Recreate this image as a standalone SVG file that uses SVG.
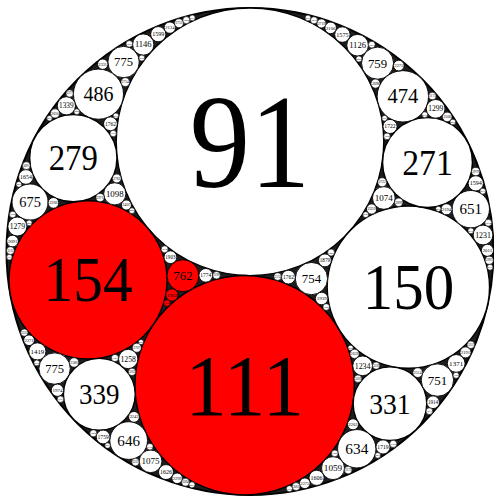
<svg xmlns="http://www.w3.org/2000/svg" width="494" height="497" viewBox="0 0 494 497">
<style>
.c{fill:#fff;stroke:#000;stroke-width:0.9}
.r{fill:#f00;stroke:#000;stroke-width:0.9}
.b{stroke-width:1.4}
.s{stroke-width:0.6}
text{font-family:"Liberation Serif","Times New Roman",serif;text-anchor:middle;fill:#000}
</style>
<rect width="494" height="497" fill="#fff"/>
<g id="outer"><circle cx="250" cy="251.5" r="243.5" fill="#1e1e1e" stroke="#000" stroke-width="2"/></g>
<g id="c91"><circle class="c b" cx="250" cy="141.79" r="133.79"/><text transform="translate(250 187.3) scale(0.9 1)" font-size="134">91</text></g>
<g id="c111"><circle class="r b" cx="244.65" cy="385.21" r="109.68"/><text transform="translate(244.65 415.0) scale(0.95 1)" font-size="87.7">111</text></g>
<g id="c154"><circle class="r b" cx="88.03" cy="279.88" r="79.06"/><text transform="translate(88.03 301.4) scale(0.94 1)" font-size="63.2">154</text></g>
<g id="c150"><circle class="c b" cx="408.37" cy="287.13" r="81.17"/><text transform="translate(408.37 309.2) scale(0.94 1)" font-size="64.9">150</text></g>
<g id="c279"><circle class="c b" cx="73.32" cy="158.07" r="43.64"/><text transform="translate(73.32 169.9) scale(0.94 1)" font-size="34.9">279</text></g>
<g id="c271"><circle class="c b" cx="427.51" cy="162.5" r="44.93"/><text transform="translate(427.51 174.7) scale(0.94 1)" font-size="35.9">271</text></g>
<g id="c339"><circle class="c b" cx="99.33" cy="394.30" r="35.91"/><text transform="translate(99.33 404.1) scale(0.94 1)" font-size="28.7">339</text></g>
<g id="c331"><circle class="c b" cx="389.95" cy="403.64" r="36.78"/><text transform="translate(389.95 413.6) scale(0.94 1)" font-size="29.4">331</text></g>
<g id="c762"><circle class="r" cx="182.97" cy="275.72" r="15.98"/><text x="182.97" y="280.1" font-size="12.8">762</text></g>
<g id="c754"><circle class="c" cx="311.44" cy="278.56" r="16.15"/><text x="311.44" y="283.0" font-size="12.9">754</text></g>
<g id="c1098"><circle class="c" cx="114.78" cy="193.80" r="11.09"/><text x="114.78" y="196.8" font-size="8.87">1098</text></g>
<g id="c675"><circle class="c" cx="30.04" cy="202.01" r="18.04"/><text x="30.04" y="206.9" font-size="14.4">675</text></g>
<g id="c486"><circle class="c" cx="98.47" cy="94.15" r="25.05"/><text x="98.47" y="101.0" font-size="20">486</text></g>
<g id="c1074"><circle class="c" cx="383.82" cy="197.95" r="11.34"/><text x="383.82" y="201.0" font-size="9.07">1074</text></g>
<g id="c651"><circle class="c" cx="470.78" cy="209.16" r="18.70"/><text x="470.78" y="214.3" font-size="15">651</text></g>
<g id="c474"><circle class="c" cx="402.86" cy="96.33" r="25.69"/><text x="402.86" y="103.3" font-size="20.6">474</text></g>
<g id="c1258"><circle class="c" cx="128.20" cy="359.01" r="9.68"/><text x="128.20" y="361.6" font-size="7.74">1258</text></g>
<g id="c775b"><circle class="c" cx="54.59" cy="368.56" r="15.71"/><text x="54.59" y="372.8" font-size="12.6">775</text></g>
<g id="c646"><circle class="c" cx="128.65" cy="440.56" r="18.85"/><text x="128.65" y="445.7" font-size="15.1">646</text></g>
<g id="c1234"><circle class="c" cx="362.62" cy="365.83" r="9.87"/><text x="362.62" y="368.5" font-size="7.9">1234</text></g>
<g id="c751"><circle class="c" cx="437.42" cy="380.08" r="16.21"/><text x="437.42" y="384.5" font-size="13">751</text></g>
<g id="c634"><circle class="c" cx="356.79" cy="448.74" r="19.20"/><text x="356.79" y="454.0" font-size="15.4">634</text></g>
<g id="c1963"><circle class="r" cx="171.94" cy="294.97" r="6.20"/><text x="171.94" y="296.7" font-size="4.96">1963</text></g>
<g id="c3694r"><circle class="r s" cx="167.04" cy="303.10" r="3.30"/><text x="167.04" y="304.0" font-size="2.6">3694</text></g>
<g id="c1903"><circle class="c" cx="170.42" cy="257.20" r="6.40"/><text x="170.42" y="258.9" font-size="5.12">1903</text></g>
<g id="c1774"><circle class="c" cx="205.81" cy="275.32" r="6.86"/><text x="205.81" y="277.2" font-size="5.49">1774</text></g>
<g id="c1939"><circle class="c" cx="321.67" cy="298.52" r="6.28"/><text x="321.67" y="300.2" font-size="5.02">1939</text></g>
<g id="c1879"><circle class="c" cx="324.91" cy="260.38" r="6.48"/><text x="324.91" y="262.2" font-size="5.18">1879</text></g>
<g id="c1762b"><circle class="c" cx="288.42" cy="277.14" r="6.91"/><text x="288.42" y="279.0" font-size="5.53">1762</text></g>
<g id="c2407"><circle class="c" cx="126.38" cy="205.02" r="5.06"/><text x="126.38" y="206.4" font-size="4.05">2407</text></g>
<g id="c2971"><circle class="c s" cx="100.07" cy="197.60" r="4.10"/><text x="100.07" y="198.7" font-size="3.28">2971</text></g>
<g id="c2782"><circle class="c s" cx="116.79" cy="178.46" r="4.38"/><text x="116.79" y="179.7" font-size="3.5">2782</text></g>
<g id="c2266"><circle class="c" cx="53.43" cy="202.87" r="5.37"/><text x="53.43" y="204.3" font-size="4.3">2266</text></g>
<g id="c1279"><circle class="c" cx="17.36" cy="226.48" r="9.52"/><text x="17.36" y="229.1" font-size="7.6">1279</text></g>
<g id="c2091"><circle class="c" cx="12.55" cy="241.04" r="5.82"/><text x="12.55" y="242.6" font-size="4.66">2091</text></g>
<g id="c1654"><circle class="c" cx="25.94" cy="176.94" r="7.36"/><text x="25.94" y="178.9" font-size="5.9">1654</text></g>
<g id="c1762a"><circle class="c" cx="110.46" cy="123.78" r="6.91"/><text x="110.46" y="125.7" font-size="5.53">1762</text></g>
<g id="c1339"><circle class="c" cx="66.37" cy="105.80" r="9.09"/><text x="66.37" y="108.3" font-size="7.27">1339</text></g>
<g id="c2650"><circle class="c s" cx="55.02" cy="113.44" r="4.59"/><text x="55.02" y="114.7" font-size="3.67">2650</text></g>
<g id="c775a"><circle class="c" cx="123.56" cy="62.03" r="15.71"/><text x="123.56" y="66.3" font-size="12.6">775</text></g>
<g id="c2754"><circle class="c s" cx="125.35" cy="82.08" r="4.42"/><text x="125.35" y="83.3" font-size="3.54">2754</text></g>
<g id="c2331"><circle class="c" cx="102.74" cy="64.18" r="5.22"/><text x="102.74" y="65.6" font-size="4.18">2331</text></g>
<g id="c1146"><circle class="c" cx="143.24" cy="44.54" r="10.62"/><text x="143.24" y="47.4" font-size="8.5">1146</text></g>
<g id="c1599"><circle class="c" cx="158.26" cy="34.18" r="7.61"/><text x="158.26" y="36.3" font-size="6.09">1599</text></g>
<g id="c2134"><circle class="c" cx="169.85" cy="27.62" r="5.71"/><text x="169.85" y="29.2" font-size="4.57">2134</text></g>
<g id="c2751"><circle class="c s" cx="178.97" cy="23.22" r="4.43"/><text x="178.97" y="24.4" font-size="3.54">2751</text></g>
<g id="c2359"><circle class="c" cx="371.60" cy="209.03" r="5.16"/><text x="371.60" y="210.4" font-size="4.13">2359</text></g>
<g id="c2899"><circle class="c s" cx="398.73" cy="202.31" r="4.20"/><text x="398.73" y="203.5" font-size="3.36">2899</text></g>
<g id="c2722"><circle class="c s" cx="382.22" cy="182.22" r="4.47"/><text x="382.22" y="183.4" font-size="3.58">2722</text></g>
<g id="c2194"><circle class="c" cx="446.52" cy="209.26" r="5.55"/><text x="446.52" y="210.8" font-size="4.44">2194</text></g>
<g id="c1231"><circle class="c" cx="483.03" cy="235.00" r="9.89"/><text x="483.03" y="237.7" font-size="7.9">1231</text></g>
<g id="c2011"><circle class="c" cx="487.44" cy="250.32" r="6.05"/><text x="487.44" y="252.0" font-size="4.84">2011</text></g>
<g id="c2991"><circle class="c s" cx="489.27" cy="260.27" r="4.07"/><text x="489.27" y="261.4" font-size="3.26">2991</text></g>
<g id="c1594"><circle class="c" cx="475.79" cy="183.30" r="7.64"/><text x="475.79" y="185.4" font-size="6.11">1594</text></g>
<g id="c2979"><circle class="c s" cx="475.68" cy="171.58" r="4.09"/><text x="475.68" y="172.7" font-size="3.27">2979</text></g>
<g id="c1722"><circle class="c" cx="390.03" cy="126.47" r="7.07"/><text x="390.03" y="128.4" font-size="5.66">1722</text></g>
<g id="c1299"><circle class="c" cx="435.63" cy="108.81" r="9.37"/><text x="435.63" y="111.4" font-size="7.5">1299</text></g>
<g id="c2566"><circle class="c s" cx="447.20" cy="116.90" r="4.74"/><text x="447.20" y="118.2" font-size="3.8">2566</text></g>
<g id="c759"><circle class="c" cx="377.54" cy="63.16" r="16.04"/><text x="377.54" y="67.5" font-size="12.8">759</text></g>
<g id="c2698"><circle class="c s" cx="375.47" cy="83.62" r="4.51"/><text x="375.47" y="84.8" font-size="3.6">2698</text></g>
<g id="c2275a"><circle class="c" cx="398.80" cy="65.56" r="5.35"/><text x="398.80" y="67.0" font-size="4.28">2275</text></g>
<g id="c1126"><circle class="c" cx="357.60" cy="45.19" r="10.81"/><text x="357.60" y="48.1" font-size="8.65">1126</text></g>
<g id="c1575"><circle class="c" cx="342.39" cy="34.58" r="7.73"/><text x="342.39" y="36.7" font-size="6.18">1575</text></g>
<g id="c2106"><circle class="c" cx="330.65" cy="27.88" r="5.78"/><text x="330.65" y="29.5" font-size="4.62">2106</text></g>
<g id="c2719"><circle class="c s" cx="321.42" cy="23.40" r="4.48"/><text x="321.42" y="24.6" font-size="3.58">2719</text></g>
<g id="c2707"><circle class="c s" cx="136.79" cy="347.73" r="4.50"/><text x="136.79" y="349.0" font-size="3.6">2707</text></g>
<g id="c2586"><circle class="c s" cx="74.08" cy="362.48" r="4.71"/><text x="74.08" y="363.8" font-size="3.77">2586</text></g>
<g id="c1419"><circle class="c" cx="37.38" cy="351.41" r="8.58"/><text x="37.38" y="353.7" font-size="6.86">1419</text></g>
<g id="c2271"><circle class="c" cx="29.02" cy="340.25" r="5.36"/><text x="29.02" y="341.7" font-size="4.29">2271</text></g>
<g id="c1974"><circle class="c" cx="57.45" cy="390.25" r="6.17"/><text x="57.45" y="391.9" font-size="4.94">1974</text></g>
<g id="c2242"><circle class="c" cx="133.98" cy="416.87" r="5.43"/><text x="133.98" y="418.3" font-size="4.34">2242</text></g>
<g id="c1759"><circle class="c" cx="103.13" cy="436.97" r="6.92"/><text x="103.13" y="438.9" font-size="5.54">1759</text></g>
<g id="c1075"><circle class="c" cx="150.56" cy="461.30" r="11.33"/><text x="150.56" y="464.4" font-size="9.06">1075</text></g>
<g id="c1626"><circle class="c" cx="165.99" cy="472.06" r="7.49"/><text x="165.99" y="474.1" font-size="5.99">1626</text></g>
<g id="c2299"><circle class="c" cx="177.15" cy="478.29" r="5.30"/><text x="177.15" y="479.7" font-size="4.24">2299</text></g>
<g id="c2659"><circle class="c s" cx="354.53" cy="353.87" r="4.58"/><text x="354.53" y="355.1" font-size="3.66">2659</text></g>
<g id="c2514"><circle class="c s" cx="417.73" cy="372.63" r="4.84"/><text x="417.73" y="373.9" font-size="3.87">2514</text></g>
<g id="c1371"><circle class="c" cx="456.20" cy="363.43" r="8.88"/><text x="456.20" y="365.8" font-size="7.1">1371</text></g>
<g id="c2191"><circle class="c" cx="465.50" cy="352.39" r="5.56"/><text x="465.50" y="353.9" font-size="4.45">2191</text></g>
<g id="c1914"><circle class="c" cx="433.07" cy="402.23" r="6.36"/><text x="433.07" y="403.9" font-size="5.09">1914</text></g>
<g id="c2202"><circle class="c" cx="353.03" cy="424.30" r="5.53"/><text x="353.03" y="425.8" font-size="4.42">2202</text></g>
<g id="c1719"><circle class="c" cx="383.02" cy="446.95" r="7.08"/><text x="383.02" y="448.9" font-size="5.66">1719</text></g>
<g id="c1059"><circle class="c" cx="333.00" cy="468.15" r="11.50"/><text x="333.00" y="471.3" font-size="9.2">1059</text></g>
<g id="c1606"><circle class="c" cx="316.56" cy="477.84" r="7.58"/><text x="316.56" y="479.9" font-size="6.06">1606</text></g>
<g id="c2275b"><circle class="c" cx="304.82" cy="483.25" r="5.35"/><text x="304.82" y="484.7" font-size="4.28">2275</text></g>
<g id="c4206"><circle class="c s" cx="131.95" cy="210.70" r="2.89"/><text x="131.95" y="211.49" font-size="2.31">4206</text></g>
<g id="c4266"><circle class="c s" cx="29.20" cy="222.88" r="2.85"/><text x="29.20" y="223.66" font-size="2.28">4266</text></g>
<g id="c3654"><circle class="c s" cx="12.70" cy="214.50" r="3.33"/><text x="12.70" y="215.40" font-size="2.66">3654</text></g>
<g id="c3111"><circle class="c s" cx="10.41" cy="250.54" r="3.91"/><text x="10.41" y="251.60" font-size="3.13">3111</text></g>
<g id="c4339"><circle class="c s" cx="9.37" cy="257.18" r="2.81"/><text x="9.37" y="257.95" font-size="2.25">4339</text></g>
<g id="c3091"><circle class="c s" cx="26.35" cy="165.65" r="3.94"/><text x="26.35" y="166.72" font-size="3.15">3091</text></g>
<g id="c4279"><circle class="c s" cx="18.91" cy="184.34" r="2.85"/><text x="18.91" y="185.12" font-size="2.28">4279</text></g>
<g id="c3778"><circle class="c s" cx="113.23" cy="133.53" r="3.22"/><text x="113.23" y="134.41" font-size="2.58">3778</text></g>
<g id="c4399"><circle class="c s" cx="115.94" cy="115.80" r="2.77"/><text x="115.94" y="116.55" font-size="2.22">4399</text></g>
<g id="c4258"><circle class="c s" cx="76.77" cy="111.70" r="2.86"/><text x="76.77" y="112.48" font-size="2.29">4258</text></g>
<g id="c4419"><circle class="c s" cx="49.48" cy="118.27" r="2.76"/><text x="49.48" y="119.02" font-size="2.21">4419</text></g>
<g id="c3271"><circle class="c s" cx="69.70" cy="93.43" r="3.72"/><text x="69.70" y="94.44" font-size="2.98">3271</text></g>
<g id="c4074"><circle class="c s" cx="141.83" cy="58.07" r="2.99"/><text x="141.83" y="58.88" font-size="2.39">4074</text></g>
<g id="c3651"><circle class="c s" cx="129.30" cy="43.87" r="3.33"/><text x="129.30" y="44.77" font-size="2.66">3651</text></g>
<g id="c4126"><circle class="c s" cx="365.73" cy="214.63" r="2.95"/><text x="365.73" y="215.43" font-size="2.36">4126</text></g>
<g id="c4579"><circle class="c s" cx="438.33" cy="208.84" r="2.66"/><text x="438.33" y="209.56" font-size="2.13">4579</text></g>
<g id="c4114"><circle class="c s" cx="470.87" cy="230.82" r="2.96"/><text x="470.87" y="231.62" font-size="2.37">4114</text></g>
<g id="c3514"><circle class="c s" cx="488.30" cy="222.73" r="3.46"/><text x="488.30" y="223.67" font-size="2.77">3514</text></g>
<g id="c4171"><circle class="c s" cx="490.07" cy="267.22" r="2.92"/><text x="490.07" y="268.02" font-size="2.34">4171</text></g>
<g id="c4119"><circle class="c s" cx="482.86" cy="191.19" r="2.96"/><text x="482.86" y="191.99" font-size="2.37">4119</text></g>
<g id="c3694f"><circle class="c s" cx="386.98" cy="136.38" r="3.30"/><text x="386.98" y="137.28" font-size="2.64">3694</text></g>
<g id="c4303"><circle class="c s" cx="384.57" cy="118.21" r="2.83"/><text x="384.57" y="118.98" font-size="2.26">4303</text></g>
<g id="c4138"><circle class="c s" cx="424.81" cy="114.71" r="2.94"/><text x="424.81" y="115.51" font-size="2.35">4138</text></g>
<g id="c3175a"><circle class="c s" cx="432.38" cy="96.01" r="3.83"/><text x="432.38" y="97.05" font-size="3.06">3175</text></g>
<g id="c4275a"><circle class="c s" cx="452.83" cy="121.99" r="2.85"/><text x="452.83" y="122.77" font-size="2.28">4275</text></g>
<g id="c4002"><circle class="c s" cx="358.93" cy="58.97" r="3.04"/><text x="358.93" y="59.80" font-size="2.43">4002</text></g>
<g id="c3579"><circle class="c s" cx="371.80" cy="44.59" r="3.40"/><text x="371.80" y="45.51" font-size="2.72">3579</text></g>
<g id="c3391"><circle class="c s" cx="114.97" cy="358.02" r="3.59"/><text x="114.97" y="359.00" font-size="2.87">3391</text></g>
<g id="c3262"><circle class="c s" cx="132.02" cy="371.86" r="3.73"/><text x="132.02" y="372.87" font-size="2.98">3262</text></g>
<g id="c4686"><circle class="c s" cx="141.00" cy="342.02" r="2.60"/><text x="141.00" y="342.73" font-size="2.08">4686</text></g>
<g id="c4134"><circle class="c s" cx="36.80" cy="362.92" r="2.95"/><text x="36.80" y="363.72" font-size="2.36">4134</text></g>
<g id="c3331"><circle class="c s" cx="24.27" cy="332.59" r="3.66"/><text x="24.27" y="333.59" font-size="2.93">3331</text></g>
<g id="c3751"><circle class="c s" cx="60.48" cy="399.16" r="3.25"/><text x="60.48" y="400.04" font-size="2.6">3751</text></g>
<g id="c3450g"><circle class="c s" cx="93.35" cy="433.29" r="3.53"/><text x="93.35" y="434.25" font-size="2.82">3450</text></g>
<g id="c4371"><circle class="c s" cx="107.60" cy="445.58" r="2.79"/><text x="107.60" y="446.34" font-size="2.23">4371</text></g>
<g id="c3714"><circle class="c s" cx="149.90" cy="446.71" r="3.28"/><text x="149.90" y="447.60" font-size="2.62">3714</text></g>
<g id="c3231"><circle class="c s" cx="135.48" cy="462.11" r="3.77"/><text x="135.48" y="463.14" font-size="3.02">3231</text></g>
<g id="c3094"><circle class="c s" cx="185.50" cy="482.22" r="3.94"/><text x="185.50" y="483.29" font-size="3.15">3094</text></g>
<g id="c4011"><circle class="c s" cx="191.96" cy="484.85" r="3.04"/><text x="191.96" y="485.68" font-size="2.43">4011</text></g>
<g id="c3319"><circle class="c s" cx="376.15" cy="365.61" r="3.67"/><text x="376.15" y="366.61" font-size="2.94">3319</text></g>
<g id="c3202"><circle class="c s" cx="357.95" cy="378.68" r="3.80"/><text x="357.95" y="379.71" font-size="3.04">3202</text></g>
<g id="c4606"><circle class="c s" cx="350.58" cy="347.82" r="2.64"/><text x="350.58" y="348.54" font-size="2.11">4606</text></g>
<g id="c3994"><circle class="c s" cx="456.10" cy="375.36" r="3.05"/><text x="456.10" y="376.19" font-size="2.44">3994</text></g>
<g id="c3211"><circle class="c s" cx="470.84" cy="344.72" r="3.79"/><text x="470.84" y="345.75" font-size="3.03">3211</text></g>
<g id="c3639"><circle class="c s" cx="429.36" cy="411.20" r="3.35"/><text x="429.36" y="412.11" font-size="2.68">3639</text></g>
<g id="c3366"><circle class="c s" cx="393.27" cy="443.90" r="3.62"/><text x="393.27" y="444.89" font-size="2.9">3366</text></g>
<g id="c4275h"><circle class="c s" cx="377.81" cy="455.40" r="2.85"/><text x="377.81" y="456.18" font-size="2.28">4275</text></g>
<g id="c3658"><circle class="c s" cx="334.75" cy="453.43" r="3.33"/><text x="334.75" y="454.33" font-size="2.66">3658</text></g>
<g id="c3175h"><circle class="c s" cx="348.20" cy="470.12" r="3.83"/><text x="348.20" y="471.16" font-size="3.06">3175</text></g>
<g id="c3066"><circle class="c s" cx="296.10" cy="486.55" r="3.97"/><text x="296.10" y="487.63" font-size="3.18">3066</text></g>
<g id="c3979"><circle class="c s" cx="289.40" cy="488.69" r="3.06"/><text x="289.40" y="489.52" font-size="2.45">3979</text></g>
<g id="c3450a"><circle class="c s" cx="186.31" cy="20.14" r="3.53"/><text x="186.31" y="21.10" font-size="2.82">3450</text></g>
<g id="c3414"><circle class="c s" cx="314.02" cy="20.26" r="3.57"/><text x="314.02" y="21.23" font-size="2.86">3414</text></g>
<g id="c4231"><circle class="c s" cx="192.31" cy="17.90" r="2.88"/><text x="192.31" y="18.68" font-size="2.3">4231</text></g>
<g id="c4191"><circle class="c s" cx="307.96" cy="17.99" r="2.90"/><text x="307.96" y="18.78" font-size="2.32">4191</text></g>
<g id="c3190"><circle class="c s" cx="216.49" cy="275.26" r="3.82"/><text x="216.49" y="276.30" font-size="3.06">3190</text></g>
<g id="c3174"><circle class="c s" cx="277.69" cy="276.60" r="3.84"/><text x="277.69" y="277.64" font-size="3.07">3174</text></g>
<g id="c3534"><circle class="c s" cx="164.63" cy="249.24" r="3.45"/><text x="164.63" y="250.18" font-size="2.76">3534</text></g>
<g id="c3486"><circle class="c s" cx="331.10" cy="252.56" r="3.49"/><text x="331.10" y="253.51" font-size="2.79">3486</text></g>
<g id="c3646"><circle class="c s" cx="326.23" cy="306.99" r="3.34"/><text x="326.23" y="307.90" font-size="2.67">3646</text></g>
<g id="connectors"></g>
</svg>
